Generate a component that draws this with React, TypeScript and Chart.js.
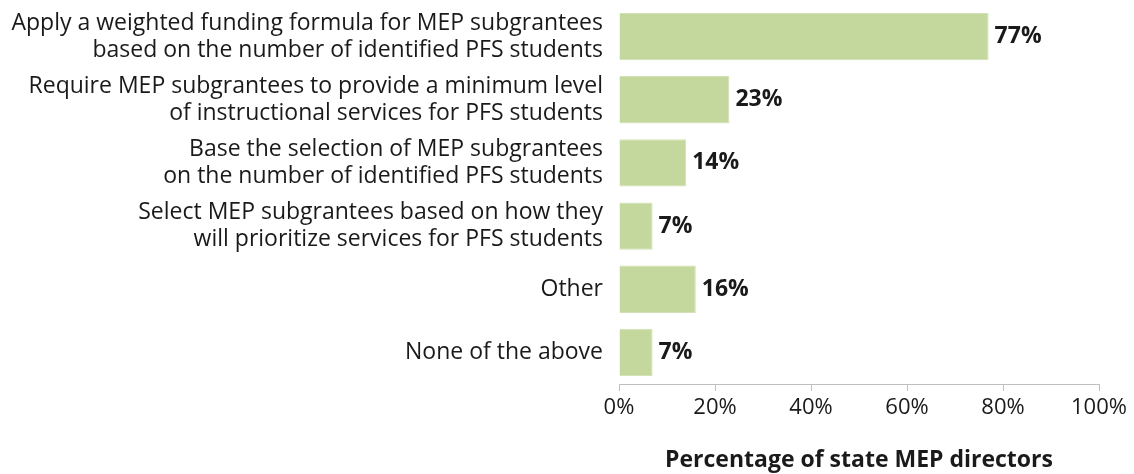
import React, { useEffect, useRef } from "react";
import { Chart, registerables } from "chart.js";

Chart.register(...registerables);

const categories: string[][] = [
  ["Apply a weighted funding formula for MEP subgrantees", "based on the number of identified PFS students"],
  ["Require MEP subgrantees to provide a minimum level", "of instructional services for PFS students"],
  ["Base the selection of MEP subgrantees", "on the number of identified PFS students"],
  ["Select MEP subgrantees based on how they", "will prioritize services for PFS students"],
  ["Other"],
  ["None of the above"],
];
const values: number[] = [77, 23, 14, 7, 16, 7];
const xTicks: number[] = [0, 20, 40, 60, 80, 100];
const axisTitle = "Percentage of state MEP directors";

const FONT = "'Open Sans', sans-serif";

const valueLabels = {
  id: "valueLabels",
  afterDatasetsDraw(chart: any) {
    const ctx = chart.ctx;
    const meta = chart.getDatasetMeta(0);
    ctx.save();
    ctx.font = `bold 23px ${FONT}`;
    ctx.fillStyle = "#1a1a1a";
    ctx.textAlign = "left";
    ctx.textBaseline = "middle";
    meta.data.forEach((bar: any, i: number) => {
      ctx.fillText(`${values[i]}%`, bar.x + 6, bar.y);
    });
    ctx.restore();
  },
};

export default function App() {
  const ref = useRef<HTMLCanvasElement>(null);
  useEffect(() => {
    document.body.style.margin = "0";
    const chart = new Chart(ref.current!, {
      type: "bar",
      data: {
        labels: categories,
        datasets: [
          {
            data: values,
            backgroundColor: "#c4d89e",
            borderColor: "#d2e2b6",
            borderWidth: 1,
            barPercentage: 0.75,
            categoryPercentage: 1,
          },
        ],
      },
      options: {
        indexAxis: "y",
        animation: false,
        responsive: false,
        maintainAspectRatio: false,
        layout: { padding: { top: 5, right: 35, bottom: 0, left: 0 } },
        plugins: { legend: { display: false }, tooltip: { enabled: false } },
        scales: {
          x: {
            min: 0,
            max: 100,
            afterBuildTicks: (scale: any) => {
              scale.ticks = xTicks.map((v) => ({ value: v }));
            },
            grid: { drawOnChartArea: false, drawTicks: true, tickLength: 7, color: "#bfbfbf" },
            border: { display: true, color: "#bfbfbf", width: 1 },
            ticks: {
              padding: 4,
              color: "#1a1a1a",
              font: { family: FONT, size: 22 },
              callback: (v: any) => `${v}%`,
            },
            title: {
              display: true,
              text: axisTitle,
              color: "#1a1a1a",
              font: { family: FONT, size: 23, weight: "bold" },
              padding: { top: 21, bottom: 0 },
            },
          },
          y: {
            afterFit: (scale: any) => {
              scale.width = 619;
              scale.paddingTop = 0;
              scale.paddingBottom = 0;
            },
            grid: { display: false, drawTicks: false },
            border: { display: false },
            ticks: {
              padding: 16,
              color: "#1a1a1a",
              font: { family: FONT, size: 23, lineHeight: "27px" },
            },
          },
        },
      },
      plugins: [valueLabels],
    });
    return () => chart.destroy();
  }, []);
  return (
    <div style={{ width: 1134, height: 474 }}>
      <canvas ref={ref} width={1134} height={474} style={{ display: "block" }} />
    </div>
  );
}
